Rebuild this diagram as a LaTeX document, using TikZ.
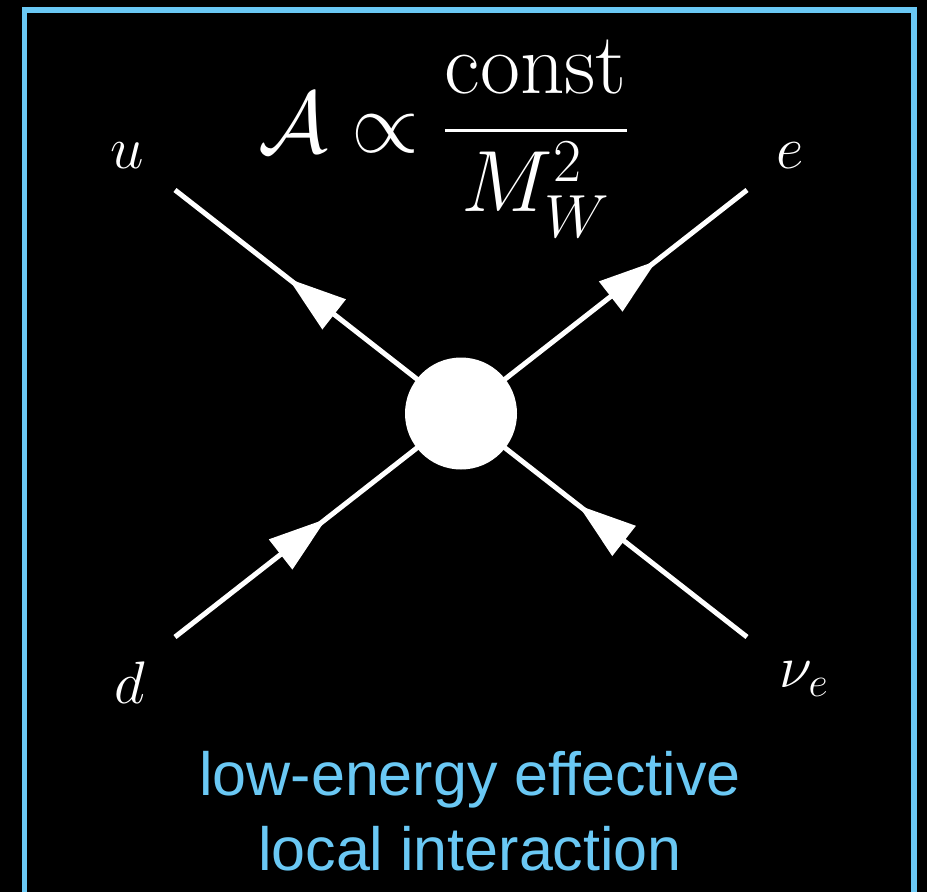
\RequirePackage{fix-cm}
\documentclass[tikz,border=0pt]{standalone}
\usepackage{amsmath,amssymb}
\usepackage{fontspec}
\newfontfamily\blurbfont{Liberation Sans}
\usetikzlibrary{arrows.meta,decorations.markings}
\definecolor{skyline}{RGB}{106,200,244}

\tikzset{
  fline/.style={white,line width=5pt},
  arrowat/.style={decoration={markings,mark=at position #1 with {\arrow{Triangle[length=58pt,width=37pt]}}},postaction={decorate}},
  blob/.style={circle,fill=white,minimum size=112pt,inner sep=0pt},
  lbl/.style={text=white,inner sep=0pt,anchor=base,font=\fontsize{60}{72}\selectfont},
  formula/.style={text=white,inner sep=0pt,anchor=base,font=\fontsize{87}{104}\selectfont},
  blurb/.style={text=skyline,inner sep=0pt,anchor=base,font=\blurbfont\fontsize{61}{73}\selectfont}
}

\begin{document}
\begin{tikzpicture}[x=1pt,y=-1pt]
\useasboundingbox (0,0) rectangle (927,892);
\fill[black] (0,0) rectangle (927,892);
\clip (0,0) rectangle (927,892);
\draw[skyline,line width=5.5pt] (24.5,10) rectangle (914,940);
\coordinate (vertex) at (461,413.5);
\coordinate (u) at (175,190);
\coordinate (e) at (747,190);
\coordinate (d) at (175,637);
\coordinate (nue) at (747,637);
\draw[fline,arrowat=-144pt] (vertex) -- (u);
\draw[fline,arrowat=-115pt] (vertex) -- (e);
\draw[fline,arrowat=192pt] (d) -- (vertex);
\draw[fline,arrowat=214pt] (nue) -- (vertex);
\node[blob] (vtx) at (vertex) {};
\node[lbl] (ulabel) at (127,168) {$u$};
\node[lbl] (elabel) at (790,168) {$e$};
\node[lbl] (dlabel) at (130,703) {$d$};
\node[lbl] (nulabel) at (804,687) {$\nu_e$};
\node[formula] (amp) at (443,152) {$\mathcal{A}\propto\dfrac{\mathrm{const}}{M_W^2}$};
\node[blurb] (line1) at (470,795) {low-energy effective};
\node[blurb] (line2) at (470,870) {local interaction};
\end{tikzpicture}
\end{document}
